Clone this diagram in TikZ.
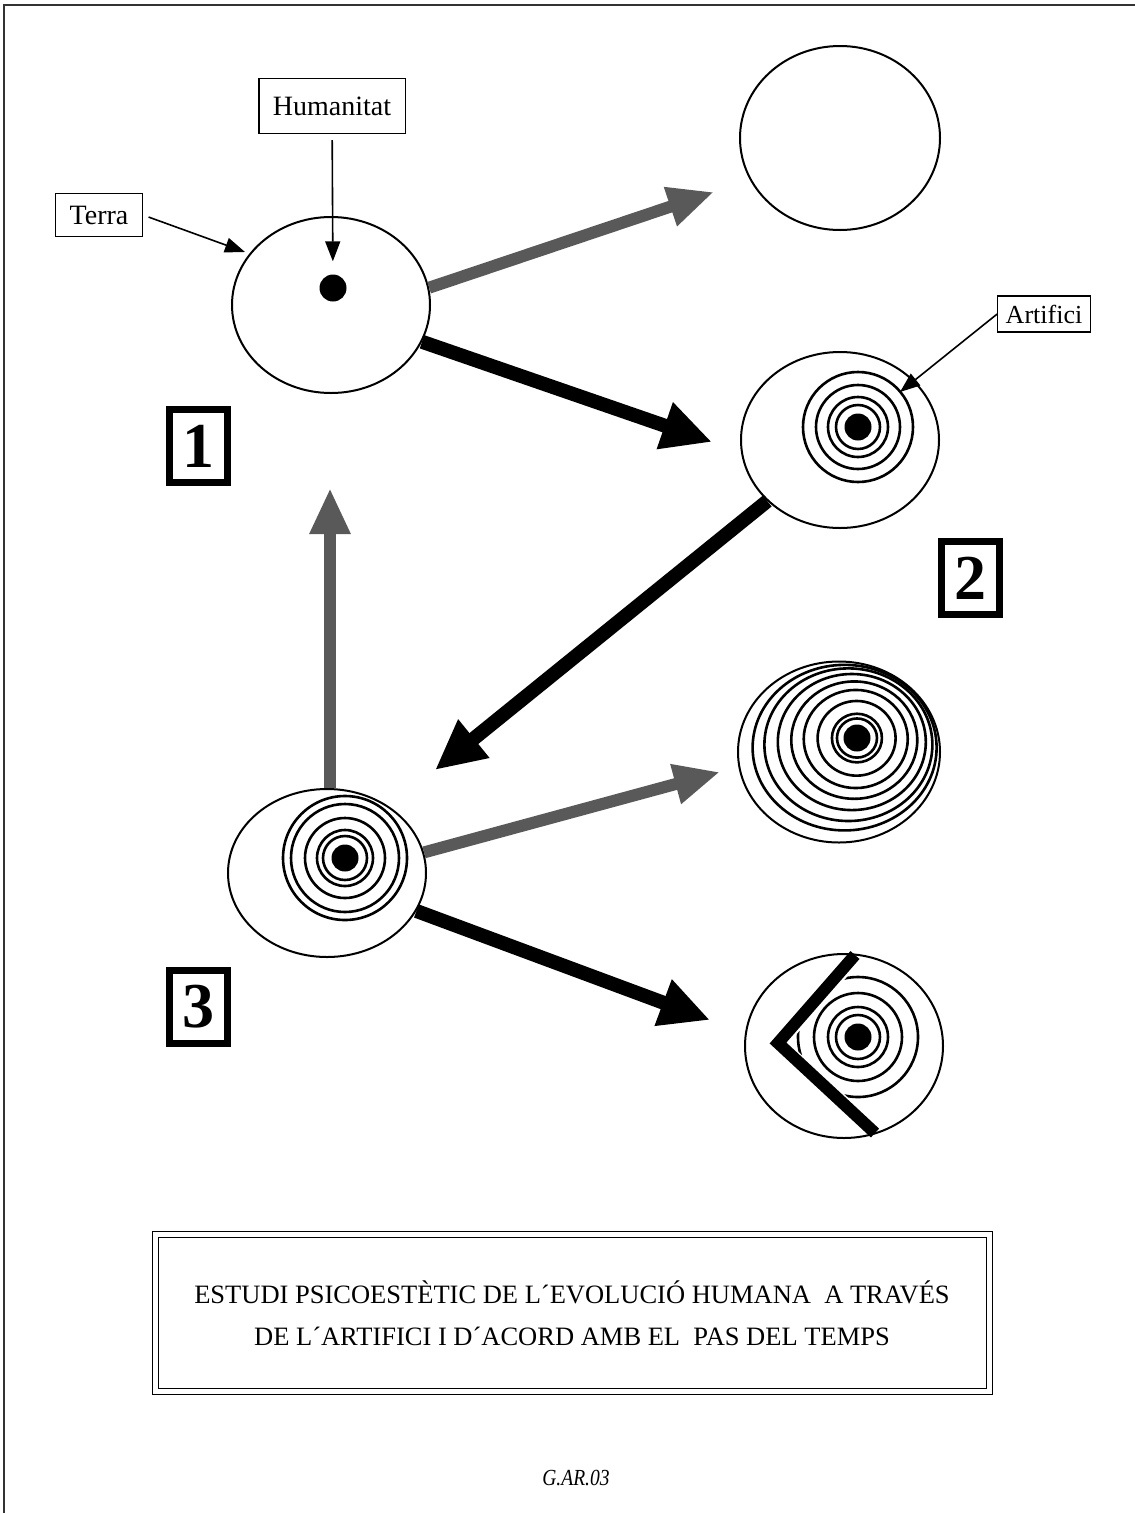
\documentclass[tikz,border=0pt]{standalone}
\usepackage{fontspec}
\setmainfont{Liberation Serif}
\usetikzlibrary{shapes.geometric, arrows.meta, positioning}
\tikzset{
  globe/.style={ellipse, draw, line width=2pt, inner sep=0pt,
    minimum width=198pt, minimum height=176pt},
  core/.style={circle, fill, inner sep=0pt, minimum size=27pt},
  ring/.style={line width=2.6pt},
  tag/.style={rectangle, draw, line width=1.2pt, inner xsep=14pt, inner ysep=0pt,
    font=\fontsize{28}{32}\selectfont},
  numbox/.style={rectangle, draw, line width=7pt, minimum width=58pt,
    minimum height=73pt, inner sep=0pt, font=\fontsize{64}{70}\selectfont\bfseries},
  titlebox/.style={rectangle, draw, line width=1pt, double, double distance=5pt,
    minimum width=834pt, minimum height=157pt, align=center,
    font=\fontsize{26.5}{42}\selectfont},
  ptr/.style={-{Triangle[length=20pt,width=15pt]}, line width=1.6pt},
  fatblack/.style={-{Triangle[length=50pt,width=46pt]}, line width=14pt},
  fatgray/.style={-{Triangle[length=46pt,width=38pt]}, line width=12pt, draw=black!65},
}

\begin{document}
\begin{tikzpicture}[x=1pt, y=-1pt]

  \useasboundingbox (0,0) rectangle (1135,1513);

  % ── Page frame ──
  \draw[line width=2pt, black!80] (4,1513) -- (4,5) -- (1135,5);

  % ── Globes ──
  \node[globe] (c1) at (331,305) {};
  \node[core]  (h1) at (333,288) {};
  \node[globe, minimum width=200pt, minimum height=184pt] (c0) at (840,138) {};
  \node[globe] (c2) at (840,440) {};
  \node[core]  (h2) at (858,427) {};
  \node[globe, minimum height=168pt] (c3) at (327,873) {};
  \node[core]  (h3) at (345,858) {};
  \node[globe, minimum width=202pt, minimum height=181pt] (c4) at (839,752) {};
  \node[core]  (h4) at (857,738) {};
  \node[globe, minimum height=184pt] (c5) at (844,1046) {};
  \node[core]  (h5) at (858,1037) {};

  % ── Rings ──
  \foreach \r in {22,30,42,55}
    \draw[ring] (h2) circle [radius=\r];
  \foreach \r in {22,28,40,54,62}
    \draw[ring] (h3) circle [radius=\r];
  \foreach \r in {20,25,39,52,63,74,84,92} {
    \pgfmathsetmacro\k{(\r/101)^4}
    \draw[ring] ([shift={(-18*\k,14*\k)}]h4.center)
      ellipse [x radius=\r, y radius={\r*(1-0.11*\r/101)}];
  }
  \begin{scope}
    \clip (789,1043) -- (884,935) -- (960,935) -- (960,1150) -- (905,1150) -- cycle;
    \foreach \r in {22,30,44,60}
      \draw[ring] (h5) circle [radius=\r];
  \end{scope}
  \draw[line width=12pt, miter limit=4] (855,955) -- (778,1043) -- (875,1133);

  % ── Labels ──
  \node[tag, minimum height=55pt] (hum)   at (332,106)  {Humanitat};
  \node[tag, minimum height=43pt] (terra) at (99,215)   {Terra};
  \node[tag, minimum height=36pt, inner xsep=8pt, font=\fontsize{26}{30}\selectfont]
    (art) at (1044,314) {Artifici};

  \coordinate (terratip) at (245,252);
  \coordinate (arttip)   at (900,392);
  \draw[ptr, shorten <=6pt, shorten >=13pt] (hum) -- (h1);
  \draw[ptr, shorten <=6pt] (terra.east) -- (terratip);
  \draw[ptr] (art.west) -- (arttip);

  % ── Stage numbers ──
  \node[numbox] (n1) at (198,446)  {1};
  \node[numbox] (n2) at (970,578)  {2};
  \node[numbox] (n3) at (198,1007) {3};

  % ── Big arrows ──
  \coordinate (g1tip) at (714,192);
  \coordinate (b1tip) at (712,442);
  \coordinate (b2tip) at (435,770);
  \coordinate (uptip) at (330,488);
  \coordinate (g2tip) at (720,772);
  \coordinate (b3tip) at (710,1020);
  \draw[fatgray]  (c1.10)  -- (g1tip);
  \draw[fatblack] (c1.-22) -- (b1tip);
  \draw[fatblack] (c2.220) -- (b2tip);
  \draw[fatgray]  (c3.north -| uptip) -- (uptip);
  \draw[fatgray]  (c3.12)  -- (g2tip);
  \draw[fatblack] (c3.-23) -- (b3tip);

  % ── Title ──
  \node[titlebox] (title) at (572,1313)
    {ESTUDI PSICOESTÈTIC DE L´EVOLUCIÓ HUMANA\ \ A TRAVÉS\\
     DE L´ARTIFICI I D´ACORD AMB EL\ \ PAS DEL TEMPS};
  \node[font=\fontsize{23}{25}\selectfont\itshape, xscale=0.85] (code) at (576,1478) {G.AR.03};

\end{tikzpicture}
\end{document}
